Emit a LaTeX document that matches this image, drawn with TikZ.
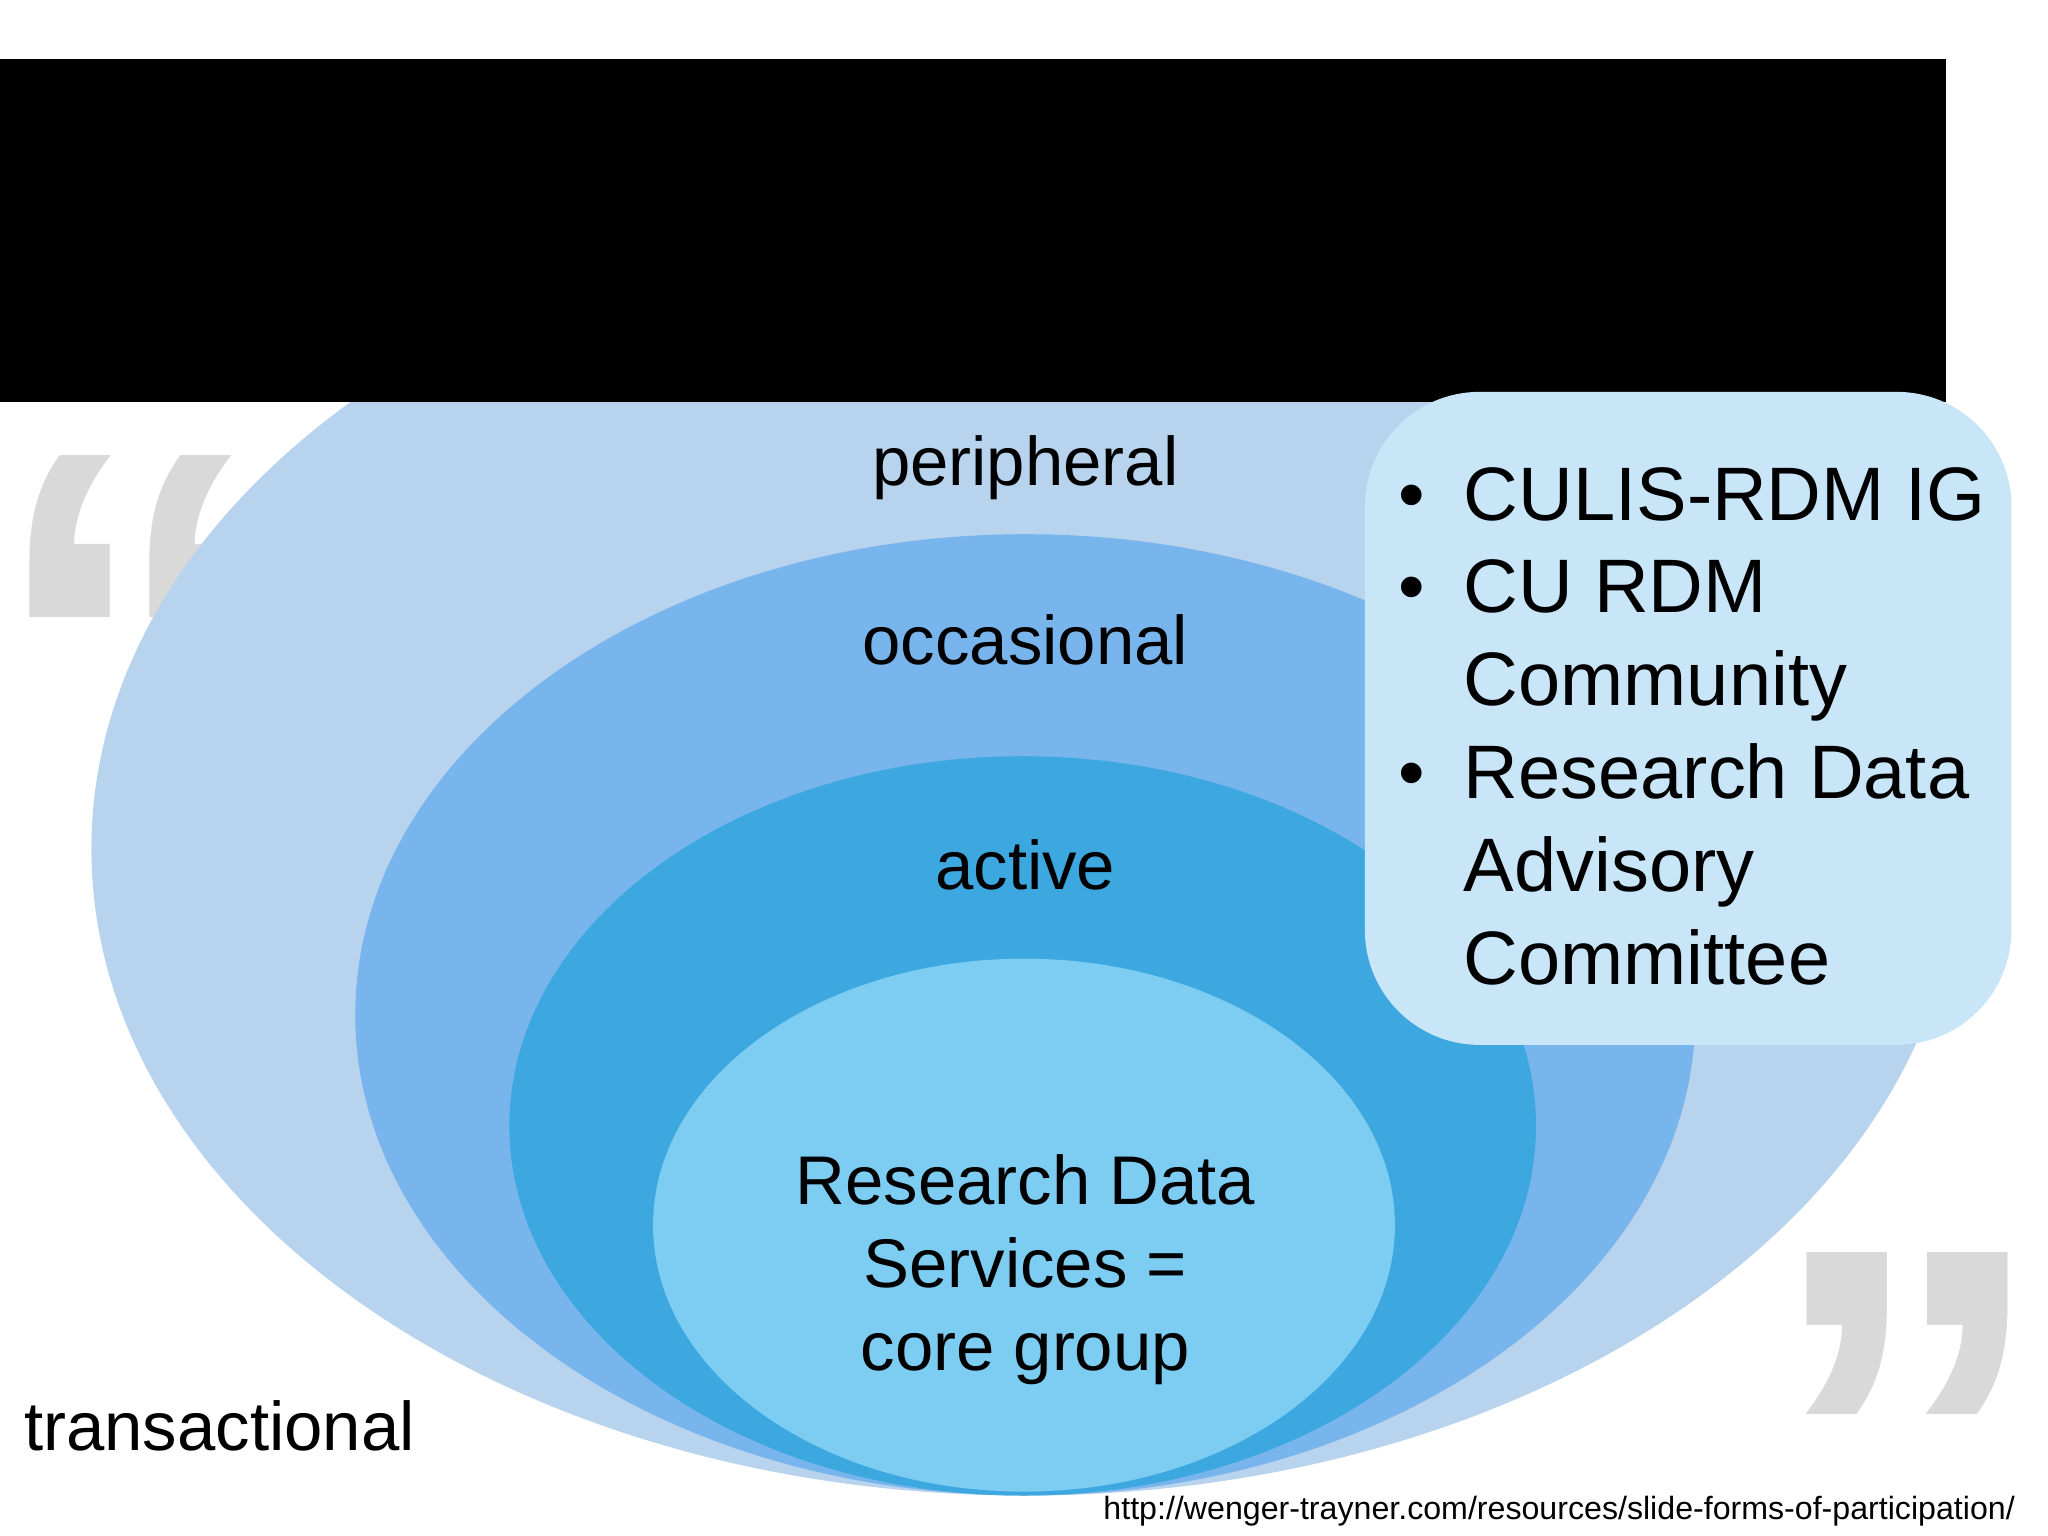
\documentclass[tikz,border=0pt]{standalone}
\usepackage{fontspec}
\setmainfont{Liberation Sans}
\begin{document}
\begin{tikzpicture}[x=0.01cm,y=-0.01cm,
  lbl/.style={font=\fontsize{15}{18}\selectfont,align=center,text=black},
  quot/.style={font=\fontsize{125}{125}\selectfont\bfseries,text=gray!30}]
\useasboundingbox (0,0) rectangle (1568,1176);
\fill[white] (0,0) rectangle (1568,1176);
\node[quot,anchor=center] (q1) at (100,500) {“};
\node[quot,anchor=center] (q2) at (1460,1110) {”};
\fill[fill={rgb,255:red,184;green,211;blue,238}] (785,650) ellipse (715 and 495);
\fill[fill={rgb,255:red,119;green,181;blue,236}] (785,777) ellipse (513 and 368);
\fill[fill={rgb,255:red,61;green,168;blue,224}] (783,862) ellipse (393 and 283);
\fill[fill={rgb,255:red,125;green,205;blue,243}] (784,938) ellipse (284 and 204);
\fill[black] (0,45) rectangle (1490,308);
\fill[fill={rgb,255:red,201;green,230;blue,248},rounded corners=25] (1045,300) rectangle (1540,800);
\node[lbl] (p) at (785,358) {peripheral};
\node[lbl] (o) at (785,490) {occasional};
\node[lbl] (a) at (785,662) {active};
\node[lbl] (c) at (785,972) {Research Data\\Services =\\core group};
\node[lbl] (t) at (168,1092) {transactional};
\node[font=\fontsize{7}{8}\selectfont,anchor=east] (u) at (1555,1157) {http://wenger-trayner.com/resources/slide-forms-of-participation/};
\node[anchor=north west,inner sep=0pt] (b) at (1058,357)
 {\fontsize{16.5}{20.2}\selectfont\begin{minipage}{4.8cm}\raggedright
 \begin{list}{\textbullet}{\leftmargin=0.62cm\labelsep=0.3cm\itemsep=0pt\parsep=0pt\topsep=0pt}
 \item CULIS-RDM IG
 \item CU RDM Community
 \item Research Data Advisory Committee
 \end{list}\end{minipage}};
\end{tikzpicture}
\end{document}
